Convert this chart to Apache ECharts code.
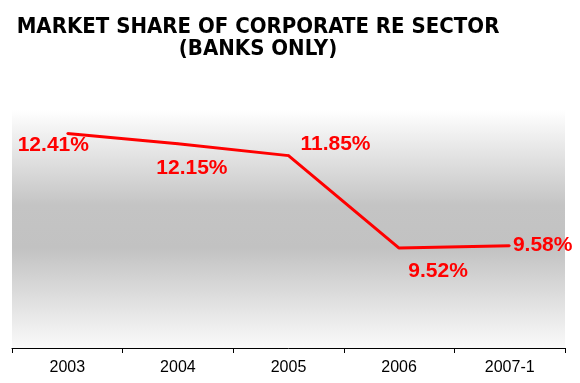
<!DOCTYPE html>
<html>
<head>
<meta charset="utf-8">
<script src="https://cdn.jsdelivr.net/npm/echarts@6/dist/echarts.min.js"></script>
<style>
  html, body { margin: 0; padding: 0; background: #ffffff; }
  #chart { width: 580px; height: 383px; }
</style>
</head>
<body>
<div id="chart"></div>
<script>
// Market share of the corporate real-estate sector (banks only), in percent
const years = ['2003', '2004', '2005', '2006', '2007-1'];
const shares = [12.41, 12.15, 11.85, 9.52, 9.58];

// Where each value label sits relative to its point (px)
const labelOffsets = [[-14, 12], [14, 24], [47, -11], [39, 23], [33, 0]];

const chart = echarts.init(document.getElementById('chart'), null, { renderer: 'canvas' });

chart.setOption({
  animation: false,
  backgroundColor: '#ffffff',
  title: {
    text: 'MARKET SHARE OF CORPORATE RE SECTOR\n(BANKS ONLY)',
    left: 253,
    top: 11,
    textAlign: 'center',
    textStyle: {
      fontFamily: '"DejaVu Sans Condensed", "DejaVu Sans", sans-serif',
      fontWeight: 'bold',
      fontSize: 22,
      lineHeight: 22,
      color: '#000000'
    }
  },
  grid: {
    left: 12,
    right: 15,
    top: 110,
    bottom: 35,
    show: true,
    borderWidth: 0,
    backgroundColor: {
      type: 'linear', x: 0, y: 0, x2: 0, y2: 1,
      colorStops: [
        { offset: 0, color: '#ffffff' },
        { offset: 0.4, color: '#c4c4c4' },
        { offset: 0.58, color: '#c2c2c2' },
        { offset: 1, color: '#fafafa' }
      ]
    }
  },
  xAxis: {
    type: 'category',
    data: years,
    boundaryGap: true,
    axisLine: { show: true, lineStyle: { color: '#000000', width: 1 } },
    axisTick: { show: true, length: 5, lineStyle: { color: '#000000' } },
    axisLabel: {
      margin: 12,
      fontFamily: '"Liberation Sans", Arial, sans-serif',
      fontSize: 16,
      color: '#000000'
    }
  },
  yAxis: {
    type: 'value',
    min: 7,
    max: 13,
    show: false,
    splitLine: { show: false }
  },
  series: [{
    type: 'line',
    data: shares.map((v, i) => ({
      value: v,
      label: { offset: labelOffsets[i] }
    })),
    symbol: 'circle',
    symbolSize: 2,
    showSymbol: true,
    itemStyle: { color: '#ff0000' },
    lineStyle: { color: '#ff0000', width: 3 },
    label: {
      show: true,
      position: 'inside',
      align: 'center',
      verticalAlign: 'middle',
      formatter: p => p.value.toFixed(2) + '%',
      fontFamily: '"Liberation Sans", Arial, sans-serif',
      fontWeight: 'bold',
      fontSize: 21,
      color: '#ff0000'
    },
    emphasis: { disabled: true }
  }]
});
</script>
</body>
</html>
